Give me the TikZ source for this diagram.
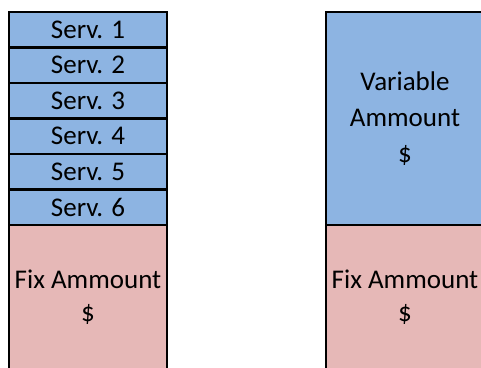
\documentclass[tikz,border=0pt]{standalone}
\usepackage{fontspec}
\setmainfont{Carlito}
\definecolor{servblue}{HTML}{8DB4E2}
\definecolor{fixpink}{HTML}{E6B8B7}
\begin{document}
\begin{tikzpicture}[x=1pt,y=-1pt,
  cell/.style={draw=black,line width=2.8pt,minimum width=158pt,inner sep=0pt,outer sep=0pt,anchor=north west,align=center,font=\fontsize{27}{34}\selectfont},
  serv/.style={cell,fill=servblue,minimum height=35.5pt},
  varbox/.style={cell,fill=servblue,minimum height=213pt,font=\fontsize{27}{36}\selectfont},
  fixbox/.style={cell,fill=fixpink,minimum height=144pt,font=\fontsize{27}{33}\selectfont}]
\useasboundingbox (0,0) rectangle (481,367);
\clip (0,0) rectangle (481,367);
\node[fixbox] (fixL) at (9,225) {Fix Ammount\\\$};
\node[serv] (s6) at (9,189.5) {Serv. 6};
\node[serv] (s5) at (9,154) {Serv. 5};
\node[serv] (s4) at (9,118.5) {Serv. 4};
\node[serv] (s3) at (9,83) {Serv. 3};
\node[serv] (s2) at (9,47.5) {Serv. 2};
\node[serv] (s1) at (9,12) {Serv. 1};
\node[fixbox] (fixR) at (326,225) {Fix Ammount\\\$};
\node[varbox] (var) at (326,12) {Variable\\Ammount\\\$};
\end{tikzpicture}
\end{document}
